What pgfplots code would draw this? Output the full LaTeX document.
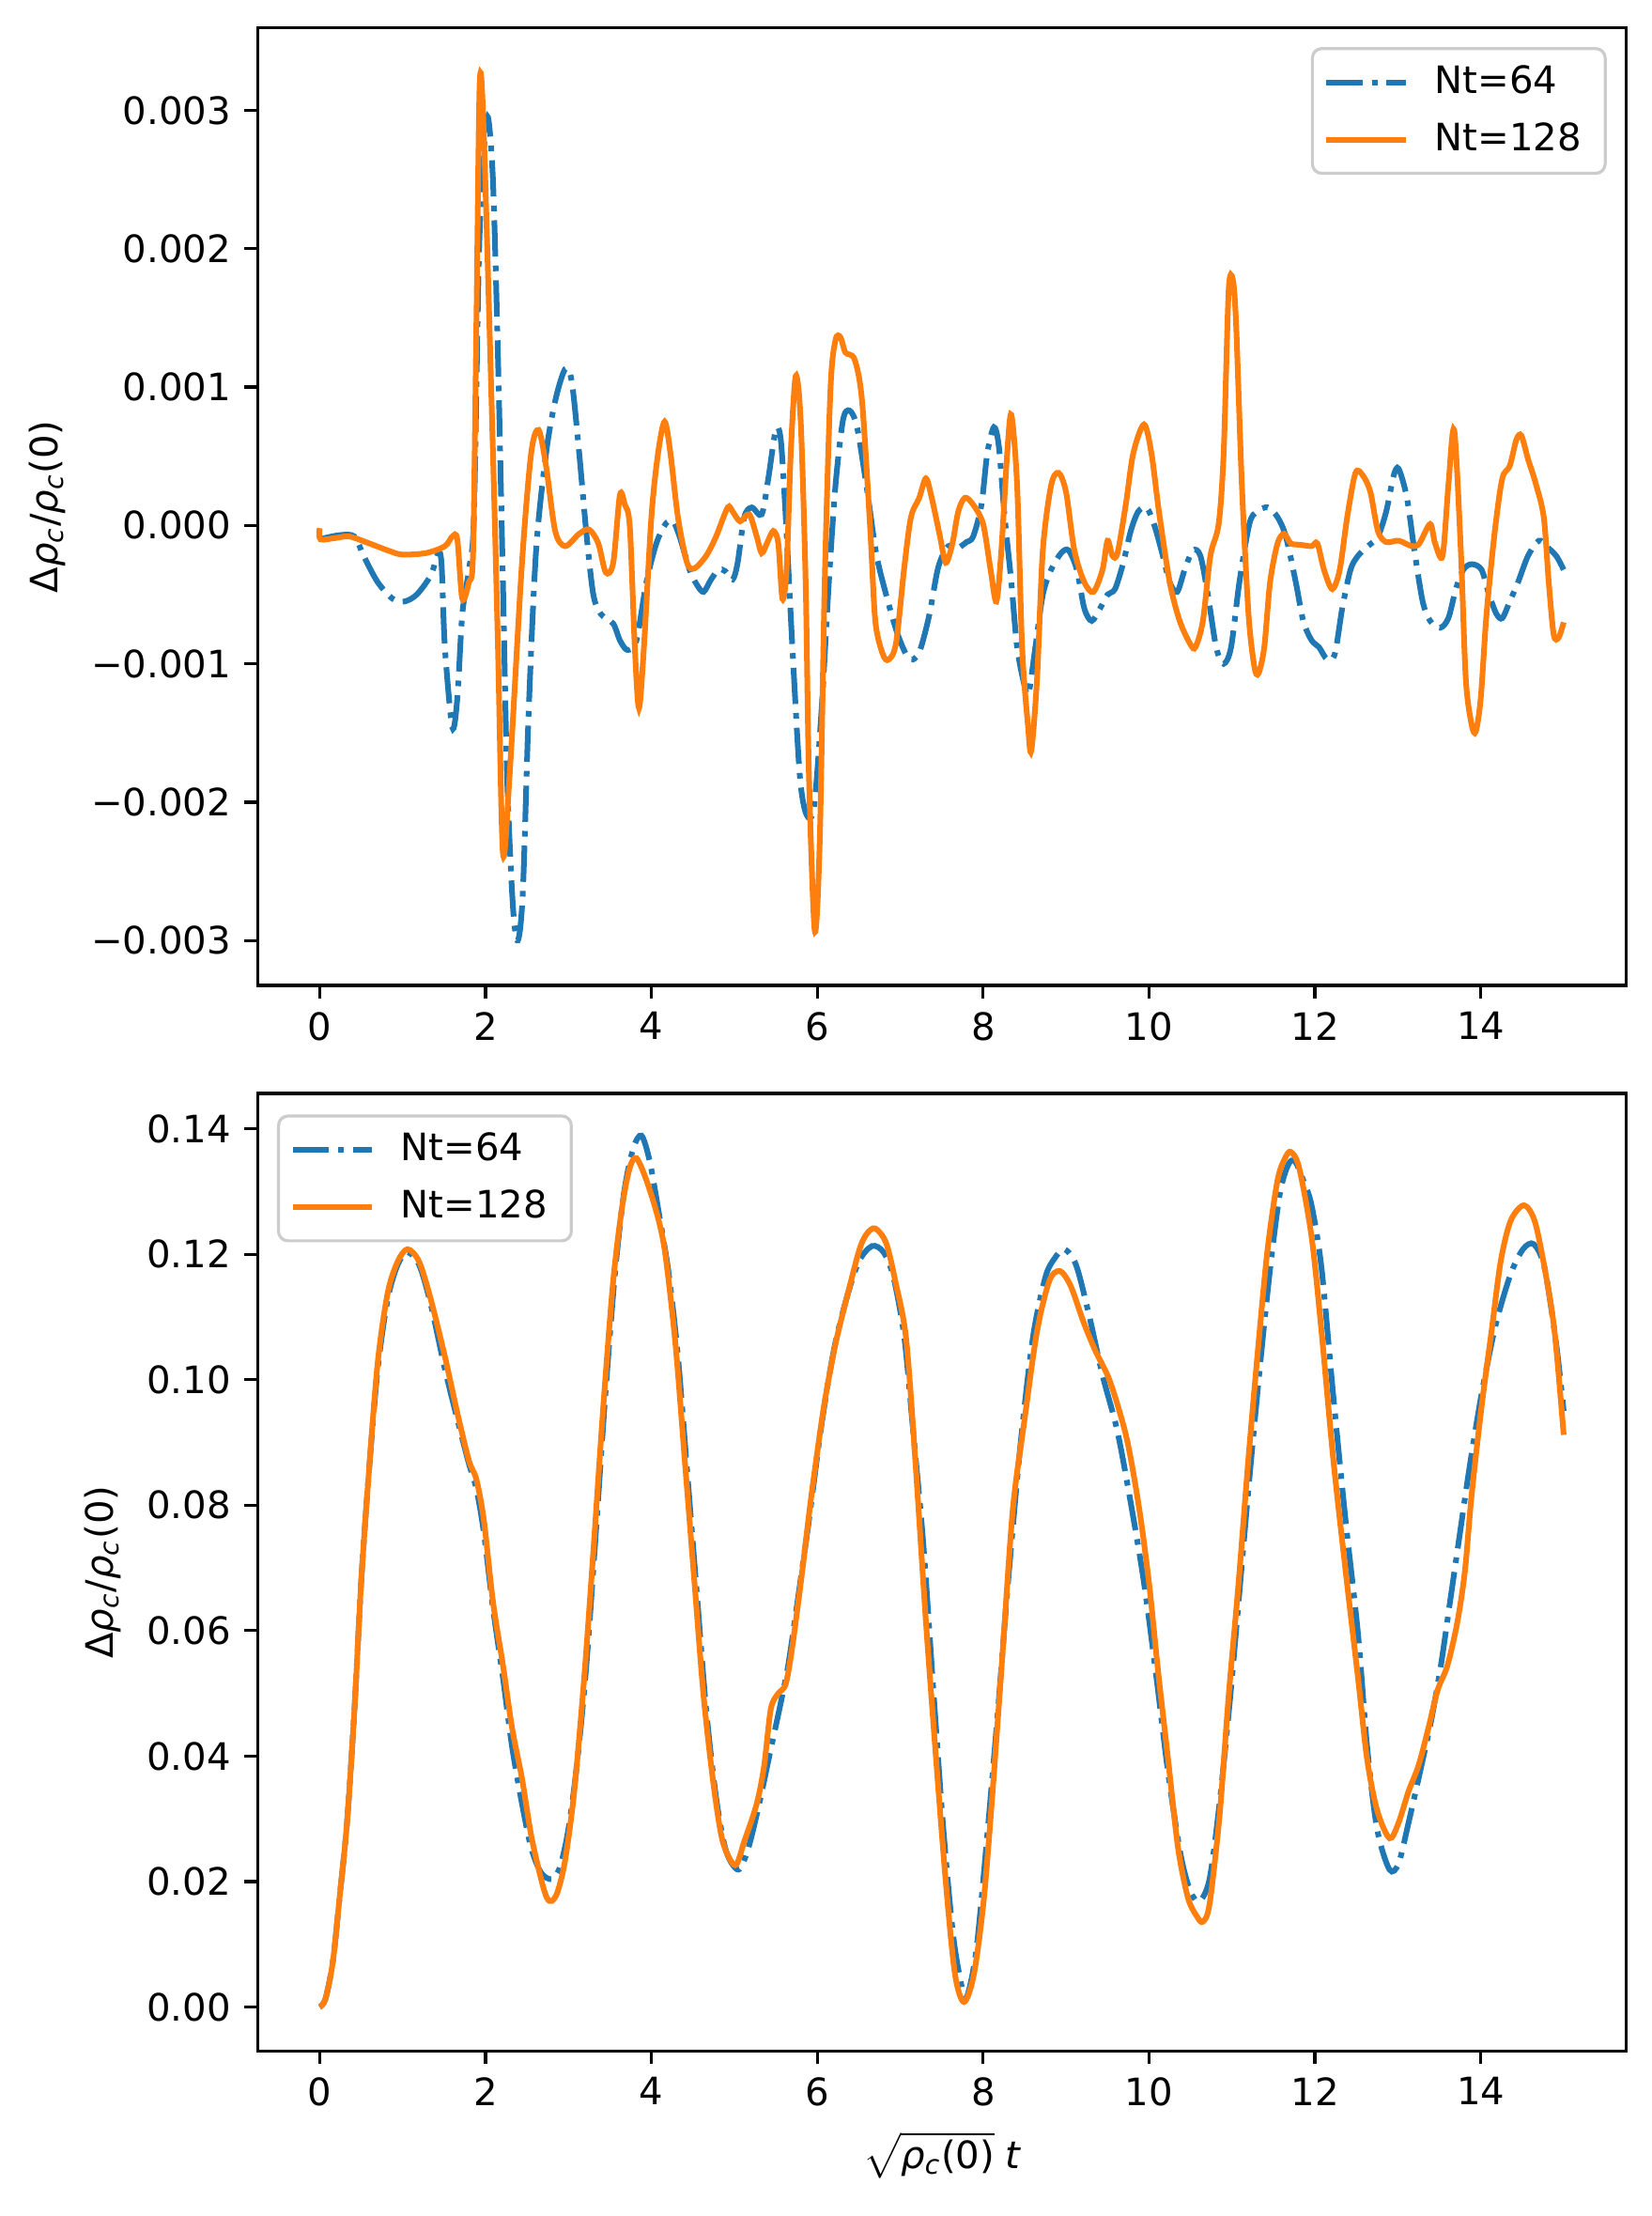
\documentclass[border=0pt]{standalone}
\usepackage{pgfplots}
\pgfplotsset{compat=1.18}
\usepackage{fontspec}
\setmainfont{DejaVu Sans}
\definecolor{c0}{HTML}{1F77B4}
\definecolor{c1}{HTML}{FF7F0E}
\newcommand{\rhoc}{{\itshape ρ}\textsubscript{\itshape c}}
\pgfplotsset{
  myaxis/.style={
    scale only axis,
    width=362.5pt, height=253.6pt,
    xmin=-0.75, xmax=15.75,
    xtick={0,2,4,6,8,10,12,14},
    xticklabels={0,2,4,6,8,10,12,14},
    tick pos=left,
    tick align=outside,
    major tick length=3.5pt,
    tick style={line width=0.8pt, black},
    axis line style={line width=0.8pt},
    every tick label/.append style={font=\fontsize{10}{12}\selectfont},
    label style={font=\fontsize{10}{12}\selectfont},
    scaled y ticks=false,
    legend cell align=left,
    legend image code/.code={\draw[##1] (0pt,0pt) -- (21pt,0pt);},
    legend style={draw=black!20, line width=0.8pt, rounded corners=2.5pt,
      fill=white, fill opacity=0.8, text opacity=1, draw opacity=1,
      font=\fontsize{10}{12}\selectfont,
      inner xsep=3pt, inner ysep=3pt, row sep=3.2pt,
      /tikz/every odd column/.append style={column sep=3.6pt},
      nodes={inner xsep=3.3pt, inner ysep=1.5pt}},
  },
  s64/.style={color=c0, line width=1.5pt, dash pattern=on 9.6pt off 2.4pt on 1.5pt off 2.4pt, smooth, tension=0.5},
  s128/.style={color=c1, line width=1.5pt, smooth, tension=0.5},
}
\begin{document}
\begin{tikzpicture}
\useasboundingbox (0,0) rectangle (437.6pt,586.9pt);
\begin{axis}[myaxis,
  at={(68.2pt,325.9pt)}, anchor=south west,
  ymin=-0.003325, ymax=0.003596,
  ytick={-0.003,-0.002,-0.001,0,0.001,0.002,0.003},
  yticklabels={−0.003,−0.002,−0.001,0.000,0.001,0.002,0.003},
  ylabel={Δ\rhoc/\rhoc(0)},
  legend style={at={(0.986,0.98)}, anchor=north east},
]
\addplot[s64] coordinates {
(0,-0.0001) (0.24,-0.00007) (0.42,-0.00008) (0.53,-0.00022) (0.7,-0.00041) (0.88,-0.00053)
(1.02,-0.00055) (1.17,-0.0005) (1.34,-0.00036) (1.43,-0.0002) (1.47,-0.00028) (1.51,-0.00088)
(1.6,-0.00146) (1.66,-0.00125) (1.72,-0.00064) (1.8,-0.00032) (1.86,0.00006) (1.92,0.00193)
(1.98,0.00272) (2.03,0.00295) (2.09,0.00249) (2.15,0.00122) (2.21,-0.00041) (2.26,-0.00181)
(2.33,-0.00275) (2.39,-0.003) (2.45,-0.00265) (2.52,-0.00135) (2.61,-0.00018) (2.73,0.00052)
(2.84,0.0009) (2.96,0.00113) (3.04,0.00104) (3.13,0.00052) (3.22,-0.00008) (3.3,-0.0005)
(3.39,-0.00064) (3.54,-0.00071) (3.62,-0.00083) (3.71,-0.0009) (3.82,-0.00083) (3.94,-0.00041)
(4.06,-0.00013) (4.17,0.00001) (4.26,0.00003) (4.34,-0.00008) (4.46,-0.00032) (4.55,-0.00043)
(4.63,-0.00048) (4.72,-0.00039) (4.81,-0.00032) (4.89,-0.00033) (4.98,-0.00039) (5.04,-0.00027)
(5.12,0.00006) (5.21,0.00013) (5.33,0.00008) (5.41,0.00034) (5.5,0.00069) (5.56,0.00062)
(5.62,0.00006) (5.7,-0.00088) (5.79,-0.00181) (5.87,-0.00209) (5.96,-0.00204) (6.05,-0.00135)
(6.14,-0.00041) (6.22,0.00029) (6.31,0.00076) (6.39,0.00083) (6.48,0.00071) (6.6,0.00026)
(6.71,-0.0002) (6.83,-0.0005) (6.96,-0.00077) (7.07,-0.00093) (7.15,-0.00097) (7.24,-0.0009)
(7.35,-0.00065) (7.46,-0.0003) (7.58,-0.00015) (7.7,-0.00016) (7.8,-0.00012) (7.88,-0.00008)
(7.98,0.00015) (8.05,0.00052) (8.13,0.00071) (8.19,0.00057) (8.26,0.00006) (8.34,-0.00041)
(8.41,-0.00088) (8.5,-0.00116) (8.55,-0.00121) (8.63,-0.00088) (8.72,-0.0005) (8.82,-0.00032)
(8.94,-0.0002) (9.03,-0.00018) (9.13,-0.00032) (9.22,-0.0006) (9.31,-0.00069) (9.41,-0.0006)
(9.5,-0.0005) (9.59,-0.00046) (9.69,-0.00027) (9.78,-0.00004) (9.87,0.0001) (9.97,0.00013)
(10.06,0.00001) (10.15,-0.00018) (10.25,-0.00041) (10.34,-0.00048) (10.43,-0.00032) (10.53,-0.00018)
(10.62,-0.00022) (10.71,-0.0005) (10.81,-0.00088) (10.9,-0.001) (10.99,-0.00088) (11.09,-0.00041)
(11.21,0.00001) (11.3,0.0001) (11.43,0.00013) (11.55,0.00006) (11.65,-0.00008) (11.77,-0.00041)
(11.86,-0.00069) (11.96,-0.00083) (12.05,-0.00088) (12.15,-0.00097) (12.24,-0.00093) (12.33,-0.0006)
(12.43,-0.00032) (12.52,-0.00022) (12.64,-0.00015) (12.76,-0.00008) (12.86,0.0001) (12.95,0.00036)
(13.01,0.00041) (13.11,0.0002) (13.2,-0.00018) (13.3,-0.00055) (13.39,-0.00069) (13.51,-0.00074)
(13.61,-0.00067) (13.7,-0.00046) (13.79,-0.00032) (13.89,-0.00028) (14.01,-0.00032) (14.1,-0.0005)
(14.19,-0.00064) (14.26,-0.00067) (14.35,-0.00055) (14.45,-0.00041) (14.57,-0.00022) (14.7,-0.00011)
(14.79,-0.00015) (14.91,-0.00022) (15.0,-0.00032)
};
\addlegendentry{Nt=64}
\addplot[s128] coordinates {
(0,-0.00002) (0.01,-0.0001) (0.2,-0.00009) (0.36,-0.00008) (0.6,-0.00013) (0.82,-0.00018)
(0.99,-0.00021) (1.28,-0.0002) (1.51,-0.00015) (1.6,-0.00008) (1.66,-0.0001) (1.72,-0.00053)
(1.8,-0.00041) (1.85,-0.0002) (1.89,0.00146) (1.93,0.0032) (1.98,0.00282) (2.09,0.00052)
(2.15,-0.00088) (2.21,-0.00237) (2.29,-0.00181) (2.44,-0.00027) (2.55,0.00052) (2.64,0.00069)
(2.73,0.00043) (2.84,-0.00004) (2.96,-0.00015) (3.13,-0.00006) (3.25,-0.00003) (3.36,-0.00013)
(3.45,-0.00034) (3.54,-0.00027) (3.62,0.00022) (3.68,0.00015) (3.74,-0.00001) (3.8,-0.00088)
(3.85,-0.00132) (3.91,-0.00088) (4.0,0.00006) (4.08,0.00052) (4.16,0.00075) (4.23,0.00052)
(4.32,0.00006) (4.43,-0.00027) (4.52,-0.00031) (4.66,-0.00022) (4.78,-0.00008) (4.92,0.00013)
(4.98,0.0001) (5.07,0.00003) (5.18,0.00008) (5.27,-0.00008) (5.33,-0.0002) (5.4,-0.00012)
(5.47,-0.00004) (5.53,-0.00013) (5.58,-0.00053) (5.63,-0.00032) (5.68,0.00052) (5.74,0.00108)
(5.8,0.00076) (5.86,-0.00041) (5.9,-0.00181) (5.97,-0.00293) (6.03,-0.00228) (6.09,-0.00041)
(6.16,0.00099) (6.22,0.00134) (6.28,0.00136) (6.34,0.00125) (6.45,0.0012) (6.54,0.0009)
(6.64,-0.00004) (6.7,-0.00069) (6.79,-0.00093) (6.86,-0.00097) (6.95,-0.00085) (7.05,-0.0003)
(7.13,0.00006) (7.23,0.0002) (7.31,0.00034) (7.38,0.0002) (7.48,-0.00008) (7.55,-0.00027)
(7.63,-0.00013) (7.7,0.0001) (7.78,0.0002) (7.88,0.00015) (8.0,0.00001) (8.09,-0.00032)
(8.16,-0.00055) (8.22,-0.00018) (8.29,0.00052) (8.34,0.0008) (8.41,0.00029) (8.47,-0.00088)
(8.54,-0.00144) (8.58,-0.00163) (8.65,-0.00111) (8.72,-0.00018) (8.82,0.00029) (8.91,0.00038)
(9.0,0.00024) (9.1,-0.00018) (9.22,-0.00041) (9.33,-0.00048) (9.44,-0.00032) (9.5,-0.00011)
(9.56,-0.00022) (9.62,-0.0002) (9.72,0.00015) (9.81,0.00052) (9.94,0.00073) (10.03,0.00052)
(10.12,0.0001) (10.25,-0.00041) (10.37,-0.00069) (10.5,-0.00086) (10.56,-0.00088) (10.65,-0.00069)
(10.74,-0.00022) (10.84,0.00001) (10.9,0.00052) (10.96,0.00169) (11.01,0.00178) (11.05,0.00146)
(11.12,0.00029) (11.2,-0.00064) (11.27,-0.00102) (11.32,-0.00107) (11.39,-0.00088) (11.46,-0.00041)
(11.55,-0.00013) (11.63,-0.00006) (11.71,-0.00013) (11.83,-0.00014) (11.96,-0.00015) (12.03,-0.00013)
(12.11,-0.00032) (12.21,-0.00046) (12.3,-0.00032) (12.39,0.00006) (12.49,0.00038) (12.58,0.00036)
(12.67,0.00024) (12.76,-0.00004) (12.86,-0.00012) (13.01,-0.00011) (13.17,-0.00015) (13.26,-0.00013)
(13.39,0.00001) (13.45,-0.00013) (13.54,-0.00022) (13.61,0.00029) (13.68,0.00069) (13.76,-0.00018)
(13.82,-0.00111) (13.89,-0.00144) (13.94,-0.00149) (14.0,-0.00125) (14.07,-0.00064) (14.17,-0.00004)
(14.26,0.00034) (14.35,0.00043) (14.43,0.00062) (14.49,0.00065) (14.57,0.00048) (14.66,0.00031)
(14.76,0.00006) (14.82,-0.00041) (14.88,-0.00079) (14.94,-0.00081) (15.0,-0.0007)
};
\addlegendentry{Nt=128}
\end{axis}
\begin{axis}[myaxis,
  at={(68.2pt,43.7pt)}, anchor=south west,
  ymin=-0.00701, ymax=0.14562,
  ytick={0,0.02,0.04,0.06,0.08,0.10,0.12,0.14},
  yticklabels={0.00,0.02,0.04,0.06,0.08,0.10,0.12,0.14},
  ylabel={Δ\rhoc/\rhoc(0)},
  xlabel={$\sqrt{\mbox{\rhoc(0)}}\;\mbox{\itshape t}$},
  legend style={at={(0.0143,0.978)}, anchor=north west},
]
\addplot[s64] coordinates {
(0,0) (0.07,0.0013) (0.16,0.0073) (0.24,0.0174) (0.33,0.0294) (0.42,0.0475) (0.5,0.0676)
(0.59,0.0846) (0.7,0.1017) (0.82,0.1128) (0.94,0.1183) (1.06,0.1203) (1.2,0.1183) (1.34,0.112)
(1.51,0.1017) (1.66,0.0937) (1.8,0.0866) (1.89,0.0826) (1.98,0.0756) (2.09,0.0636) (2.21,0.0525)
(2.32,0.0415) (2.44,0.0324) (2.55,0.0254) (2.67,0.0214) (2.8,0.0204) (2.9,0.0224) (3.0,0.0284)
(3.1,0.0384) (3.21,0.0535) (3.32,0.0736) (3.44,0.0967) (3.56,0.1168) (3.67,0.1298) (3.78,0.1368)
(3.88,0.1389) (3.98,0.1348) (4.1,0.1258) (4.21,0.1168) (4.32,0.1037) (4.43,0.0856) (4.55,0.0656)
(4.66,0.0475) (4.78,0.0334) (4.9,0.0249) (5.05,0.0219) (5.17,0.0254) (5.3,0.0324) (5.43,0.0405)
(5.56,0.0485) (5.65,0.0545) (5.74,0.0626) (5.9,0.0776) (6.05,0.0927) (6.2,0.1047) (6.35,0.1128)
(6.5,0.1188) (6.66,0.1213) (6.8,0.1203) (6.92,0.1163) (7.05,0.1067) (7.15,0.0927) (7.28,0.0736)
(7.4,0.0505) (7.52,0.0284) (7.64,0.0113) (7.75,0.0028) (7.81,0.0018) (7.92,0.0093) (8.05,0.0274)
(8.18,0.0475) (8.3,0.0676) (8.45,0.0896) (8.6,0.1067) (8.75,0.1163) (8.86,0.1193) (8.98,0.1208)
(9.12,0.1183) (9.27,0.1107) (9.44,0.1007) (9.62,0.0917) (9.79,0.0796) (9.94,0.0676) (10.09,0.0525)
(10.23,0.0374) (10.38,0.0244) (10.5,0.0184) (10.61,0.0169) (10.73,0.0204) (10.85,0.0324) (10.98,0.0495)
(11.1,0.0676) (11.22,0.0856) (11.35,0.1037) (11.47,0.1188) (11.58,0.1298) (11.68,0.1343) (11.76,0.1348)
(11.86,0.1318) (11.96,0.1278) (12.08,0.1178) (12.22,0.0977) (12.37,0.0776) (12.52,0.0595) (12.63,0.0415)
(12.75,0.0284) (12.9,0.0219) (13.01,0.0229) (13.13,0.0294) (13.25,0.0364) (13.4,0.0455) (13.52,0.0545)
(13.63,0.0646) (13.75,0.0756) (13.86,0.0856) (14.01,0.0977) (14.18,0.1087) (14.36,0.1168) (14.51,0.1208)
(14.64,0.1216) (14.77,0.1178) (14.91,0.1057) (15.0,0.095)
};
\addlegendentry{Nt=64}
\addplot[s128] coordinates {
(0,0) (0.07,0.0013) (0.16,0.0073) (0.24,0.0174) (0.33,0.0294) (0.42,0.0475) (0.5,0.0676)
(0.59,0.0846) (0.7,0.1027) (0.82,0.1138) (0.94,0.1188) (1.06,0.1208) (1.2,0.1188) (1.34,0.1128)
(1.51,0.1037) (1.66,0.0947) (1.8,0.0871) (1.89,0.0841) (1.98,0.0776) (2.09,0.0646) (2.21,0.0545)
(2.32,0.0445) (2.44,0.0364) (2.55,0.0274) (2.67,0.0204) (2.74,0.0174) (2.8,0.0169) (2.87,0.0184)
(2.96,0.0234) (3.07,0.0344) (3.19,0.0525) (3.3,0.0726) (3.42,0.0957) (3.54,0.1158) (3.65,0.1278)
(3.74,0.1338) (3.82,0.1353) (3.94,0.1318) (4.08,0.1258) (4.17,0.1198) (4.29,0.1057) (4.4,0.0876)
(4.52,0.0676) (4.63,0.0495) (4.75,0.0354) (4.86,0.0264) (5.01,0.0226) (5.12,0.0264) (5.27,0.0324)
(5.36,0.0385) (5.44,0.0475) (5.53,0.05) (5.62,0.0515) (5.7,0.0575) (5.82,0.0696) (5.93,0.0816)
(6.08,0.0957) (6.22,0.1057) (6.37,0.1138) (6.51,0.1208) (6.6,0.1233) (6.7,0.1241) (6.83,0.1218)
(6.94,0.1158) (7.07,0.1067) (7.18,0.0876) (7.31,0.0615) (7.43,0.04) (7.55,0.0199) (7.66,0.0053)
(7.77,0.0008) (7.89,0.0053) (8.01,0.0174) (8.12,0.0354) (8.24,0.0575) (8.36,0.0796) (8.5,0.0937)
(8.65,0.1077) (8.8,0.1158) (8.93,0.1173) (9.06,0.1148) (9.21,0.1092) (9.35,0.1047) (9.53,0.0997)
(9.73,0.0907) (9.88,0.0796) (10.0,0.0676) (10.11,0.0535) (10.23,0.0395) (10.35,0.0254) (10.47,0.0174)
(10.58,0.0144) (10.65,0.0136) (10.73,0.0164) (10.85,0.0304) (10.96,0.0495) (11.08,0.0676) (11.2,0.0876)
(11.32,0.1057) (11.43,0.1208) (11.55,0.1318) (11.64,0.1353) (11.71,0.1363) (11.81,0.1338) (11.96,0.1228)
(12.08,0.1077) (12.22,0.0876) (12.37,0.0696) (12.52,0.0525) (12.63,0.0395) (12.75,0.0314) (12.9,0.0269)
(13.01,0.0294) (13.13,0.0344) (13.25,0.0385) (13.37,0.0445) (13.48,0.0505) (13.6,0.0545) (13.72,0.0615)
(13.81,0.0696) (13.89,0.0816) (14.01,0.0957) (14.13,0.1077) (14.24,0.1188) (14.36,0.1253) (14.52,0.1278)
(14.65,0.1253) (14.77,0.1178) (14.89,0.1077) (15.0,0.0912)
};
\addlegendentry{Nt=128}
\end{axis}
\end{tikzpicture}
\end{document}
